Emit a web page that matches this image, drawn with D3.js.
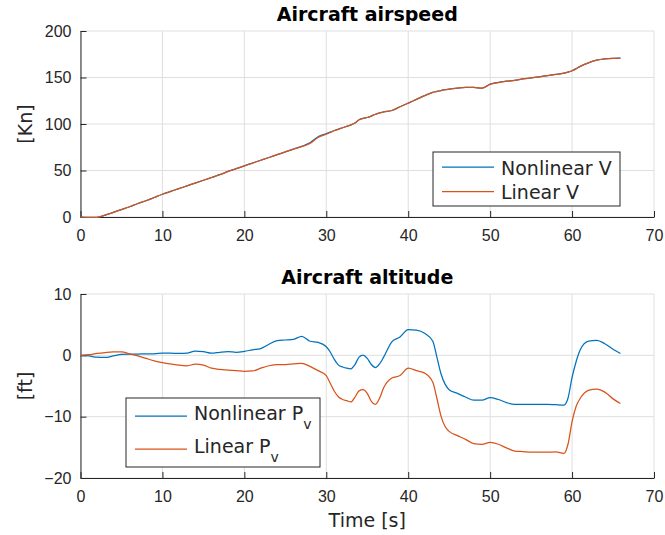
<!DOCTYPE html>
<html>
<head>
<meta charset="utf-8">
<script src="https://cdn.jsdelivr.net/npm/d3@7"></script>
<style>
  body { margin: 0; background: #fff; }
  svg { font-family: "DejaVu Sans", sans-serif; }
  .grid line { stroke: #dfdfdf; stroke-width: 1; }
  .axis path, .axis line { stroke: #262626; }
  .axis text { fill: #262626; font-size: 16px; }
  .title { font-size: 19px; font-weight: bold; fill: #000; }
  .label { font-size: 19px; fill: #262626; }
  .legend text { font-size: 19px; fill: #262626; }
</style>
</head>
<body>
<div id="chart"></div>
<script>
// Data
var time = [0,1,2,3,4,5,6,7,8,9,10,11,12,13,14,15,16,17,18,19,20,21,22,23,24,25,26,27,28,29,30,
  30.5,31,31.5,32,32.5,33,33.5,34,34.5,35,35.5,36,36.5,37,
  38,39,40,41,42,43,
  43.5,44,44.5,45,
  46,47,48,49,50,51,52,53,54,55,56,57,58,59,
  59.5,60,60.5,61,
  62,63,64,65,65.9];

var nonlinearV = [0,-0.5,-0.3,2,5,8,11,14.5,17.5,21,24.5,27.5,30.5,33.5,36.5,39.5,42.5,45.5,49,52,55,58,61,64,67,70,73,76,79.8,86.3,89.6,
  91.3,93,94.5,96,97.5,99,101,104.5,106,107,108.5,110.5,112,113,
  114.5,118.5,122.5,126.5,130.5,134,
  135,136,137,137.5,
  138.6,139.4,139.3,138.5,143,144.8,146,147,148.5,149.6,150.8,152,153.3,154.7,
  155.8,157.3,159.5,162,
  165.8,168.6,170,170.6,170.8];

var linearV = [0,-0.5,-0.3,2,5,8,11,14.5,17.5,21,24.5,27.5,30.5,33.5,36.5,39.5,42.5,45.5,49,52,55,58,61,64,67,70,73,75.6,79,85.5,89,
  91,93,94.5,96,97.5,99,101,104.5,106,107,108.5,110.5,112,113,
  114.5,118.5,122.5,126.5,130.5,134,
  135,136,137,137.5,
  138.6,139.4,139.3,138.5,142.6,144.6,146,147,148.5,149.6,150.8,152,153.3,154.7,
  155.8,157.3,159.5,162,
  165.8,168.6,170,170.6,170.8];

var nonlinearPv = [0,-0.1,-0.3,-0.35,-0.1,0.15,0.2,0.2,0.25,0.25,0.35,0.35,0.3,0.35,0.7,0.6,0.35,0.5,0.6,0.5,0.65,0.9,1.1,1.8,2.4,2.5,2.6,3.1,2.3,2.1,1.4,
  0.5,-0.7,-1.6,-1.9,-2.1,-2.2,-1.5,-0.3,0.05,-0.5,-1.5,-2.0,-1.4,-0.3,
  2.2,3.0,4.2,4.1,3.6,2.3,
  -0.3,-3.0,-4.7,-5.6,
  -6.2,-6.8,-7.3,-7.3,-6.9,-7.2,-7.7,-8.0,-8.0,-8.0,-8.0,-8.0,-8.05,-8.1,
  -7.0,-3.6,-1.0,0.9,
  2.3,2.45,1.9,1.0,0.3];

var linearPv = [0,0.1,0.3,0.45,0.55,0.55,0.25,-0.1,-0.5,-0.9,-1.2,-1.4,-1.6,-1.7,-1.45,-1.6,-2.1,-2.3,-2.4,-2.5,-2.6,-2.55,-2.1,-1.7,-1.5,-1.5,-1.4,-1.3,-1.8,-2.5,-3.3,
  -4.6,-5.9,-6.8,-7.2,-7.4,-7.6,-6.8,-5.8,-5.6,-6.2,-7.5,-8.0,-7.0,-5.3,
  -3.7,-3.3,-2.1,-2.5,-2.9,-4.4,
  -7.0,-9.9,-11.6,-12.4,
  -13.1,-13.7,-14.4,-14.5,-14.2,-14.5,-15.1,-15.6,-15.7,-15.8,-15.8,-15.8,-15.75,-16.0,
  -14.5,-10.8,-8.3,-7.0,
  -5.7,-5.5,-6.0,-7.1,-7.85];

var xTicks = [0,10,20,30,40,50,60,70];
var speedTicks = [0,50,100,150,200];
var altTicks = [-20,-10,0,10];

var blue = "#0072BD";
var orange = "#D95319";

var width = 665, height = 535;
var left = 80.5, right = 654;

var svg = d3.select("#chart").append("svg")
    .attr("width", width)
    .attr("height", height);

var xScale = d3.scaleLinear()
    .domain([0, 70])
    .range([left, right]);

function drawPanel(p) {

  var yScale = d3.scaleLinear()
      .domain(p.domain)
      .range([p.bottom, p.top]);

  var g = svg.append("g");

  // grid
  var grid = g.append("g").attr("class", "grid");
  grid.selectAll(".gx")
      .data(xTicks)
    .enter().append("line")
      .attr("x1", function(d) { return xScale(d); })
      .attr("x2", function(d) { return xScale(d); })
      .attr("y1", p.top)
      .attr("y2", p.bottom);
  grid.selectAll(".gy")
      .data(p.yTicks)
    .enter().append("line")
      .attr("x1", left)
      .attr("x2", right)
      .attr("y1", function(d) { return yScale(d); })
      .attr("y2", function(d) { return yScale(d); });

  // axes
  g.append("g")
      .attr("class", "x axis")
      .attr("transform", "translate(0," + p.bottom + ")")
      .call(d3.axisBottom(xScale).tickValues(xTicks).tickSizeInner(-6).tickSizeOuter(0).tickPadding(13));

  g.append("g")
      .attr("class", "y axis")
      .attr("transform", "translate(" + left + ",0)")
      .call(d3.axisLeft(yScale).tickValues(p.yTicks).tickSizeInner(-6).tickSizeOuter(0).tickPadding(9));

  // lines
  var line = function(vals) {
    return d3.line()
        .x(function(d, i) { return xScale(time[i]); })
        .y(function(d) { return yScale(d); })
        .curve(d3.curveMonotoneX)(vals);
  };

  p.series.forEach(function(s) {
    g.append("path")
        .attr("d", line(s.values))
        .attr("fill", "none")
        .attr("stroke", s.color)
        .attr("stroke-width", 1.25);
  });

  // title
  g.append("text")
      .attr("class", "title")
      .attr("x", (left + right) / 2)
      .attr("y", p.top - 10)
      .style("text-anchor", "middle")
      .text(p.title);

  // y label
  g.append("text")
      .attr("class", "label")
      .attr("transform", "rotate(-90)")
      .attr("x", -(p.top + p.bottom) / 2)
      .attr("y", 25)
      .attr("dy", "0.35em")
      .style("text-anchor", "middle")
      .text(p.ylabel);

  // legend
  var lg = g.append("g").attr("class", "legend");
  lg.append("rect")
      .attr("x", p.legend.x)
      .attr("y", p.legend.y)
      .attr("width", p.legend.w)
      .attr("height", p.legend.h)
      .attr("fill", "#fff")
      .attr("stroke", "#262626")
      .attr("stroke-width", 1);

  p.series.forEach(function(s, i) {
    var ly = p.legend.rows[i];
    lg.append("line")
        .attr("x1", p.legend.x + 9)
        .attr("x2", p.legend.x + 61)
        .attr("y1", ly)
        .attr("y2", ly)
        .attr("stroke", s.color)
        .attr("stroke-width", 1.25);
    var t = lg.append("text")
        .attr("x", p.legend.x + 68)
        .attr("y", ly + p.legend.dy);
    t.append("tspan").text(s.name);
    if (s.sub) {
      t.append("tspan")
          .attr("dy", 9)
          .style("font-size", "14px")
          .text(s.sub);
    }
  });
}

drawPanel({
  title: "Aircraft airspeed",
  ylabel: "[Kn]",
  domain: [0, 200],
  yTicks: speedTicks,
  top: 31,
  bottom: 217,
  series: [
    { name: "Nonlinear V", values: nonlinearV, color: blue },
    { name: "Linear V", values: linearV, color: orange }
  ],
  legend: { x: 433, y: 152, w: 187, h: 54, rows: [167, 191.5], dy: 7.5 }
});

drawPanel({
  title: "Aircraft altitude",
  ylabel: "[ft]",
  domain: [-20, 10],
  yTicks: altTicks,
  top: 294,
  bottom: 478,
  series: [
    { name: "Nonlinear P", sub: "v", values: nonlinearPv, color: blue },
    { name: "Linear P", sub: "v", values: linearPv, color: orange }
  ],
  legend: { x: 126, y: 398, w: 194, h: 69, rows: [416, 449], dy: 3.5 }
});

// x label
svg.append("text")
    .attr("class", "label")
    .attr("x", (left + right) / 2)
    .attr("y", 527)
    .style("text-anchor", "middle")
    .text("Time [s]");
</script>
</body>
</html>
